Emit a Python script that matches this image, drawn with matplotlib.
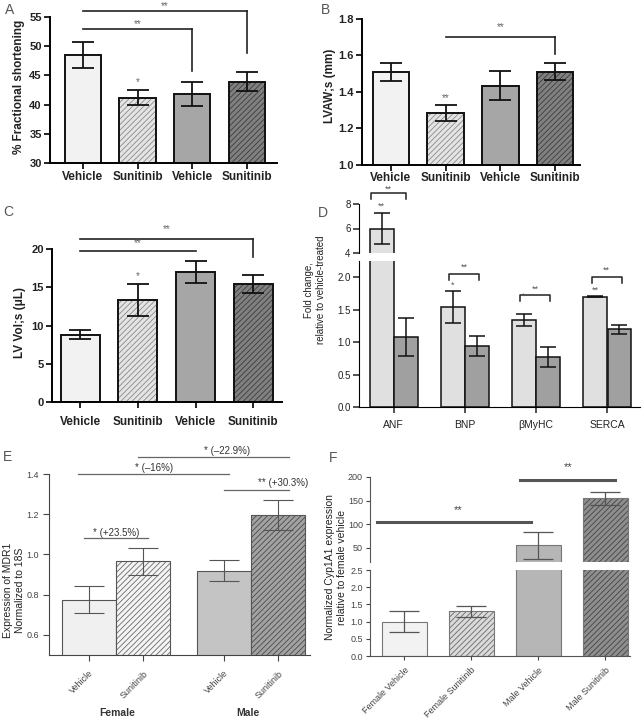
import numpy as np
import matplotlib
matplotlib.use('Agg')
import matplotlib.pyplot as plt

plt.rcParams['font.family'] = ['Liberation Sans', 'DejaVu Sans']
plt.rcParams['hatch.linewidth'] = 0.6

W, H = 644, 720
fig = plt.figure(figsize=(W/100, H/100), dpi=100)

def ax_px(x0, y0, x1, y1):
    return fig.add_axes([x0/W, 1-y1/H, (x1-x0)/W, (y1-y0)/H])

# ---- data ----
groups4 = ['Vehicle', 'Sunitinib', 'Vehicle', 'Sunitinib']
a_val = [48.5, 41.2, 41.8, 43.9]
a_err = [2.3, 1.25, 2.1, 1.6]
b_val = [1.51, 1.285, 1.435, 1.512]
b_err = [0.05, 0.045, 0.08, 0.048]
c_val = [8.8, 13.3, 17.0, 15.4]
c_err = [0.55, 2.1, 1.4, 1.2]
d_genes = ['ANF', 'BNP', 'βMyHC', 'SERCA']
d_light = [6.0, 1.54, 1.34, 1.70]
d_light_err = [1.25, 0.24, 0.09, 0.01]
d_dark = [1.08, 0.94, 0.77, 1.20]
d_dark_err = [0.29, 0.16, 0.15, 0.07]
e_val = [0.775, 0.965, 0.918, 1.195]
e_err = [0.067, 0.068, 0.052, 0.075]
f_labels = ['Female Vehicle', 'Female Sunitinib', 'Male Vehicle', 'Male Sunitinib']
f_val = [1.0, 1.3, 55, 155]
f_err = [0.31, 0.16, 28, 14]

# bar styles: (face, hatch colour or None)
sty_top = [('#f2f2f2', None), ('#e4e4e4', '#8a8a8a'), ('#a6a6a6', None), ('#808080', '#3c3c3c')]
sty_e = [('#f0f0f0', None), ('#f4f4f4', '#6a6a6a'), ('#c4c4c4', None), ('#a2a2a2', '#4a4a4a')]
sty_f = [('#f2f2f2', None), ('#dadada', '#6a6a6a'), ('#b6b6b6', None), ('#8e8e8e', '#444444')]

def draw_bar(ax, x, h, w, face, hcol, edge, lw, bottom=0):
    if hcol:
        ax.bar(x, h, w, bottom=bottom, color=face, edgecolor=hcol, hatch='//////', lw=0)
    else:
        ax.bar(x, h, w, bottom=bottom, color=face, lw=0)
    ax.bar(x, h, w, bottom=bottom, fill=False, edgecolor=edge, lw=lw)

def style_top(ax, lw=1.4):
    for s in ['top', 'right']:
        ax.spines[s].set_visible(False)
    for s in ['left', 'bottom']:
        ax.spines[s].set_linewidth(lw)
    ax.tick_params(width=lw, length=4, labelsize=8, colors='#222222', pad=2)
    for t in ax.get_xticklabels():
        t.set_fontweight('bold')
        t.set_fontsize(8.5)
    for t in ax.get_yticklabels():
        t.set_fontweight('bold')

def bracket(ax, x0, x1, y, ydrop=None, txt='**', ty=None, lw=1.2, color='#222222', tcol='#666666', fs=7):
    ax.plot([x0, x1], [y, y], color=color, lw=lw, clip_on=False)
    if ydrop is not None:
        ax.plot([x1, x1], [y, ydrop], color=color, lw=lw, clip_on=False)
    if txt:
        ax.text((x0 + x1)/2, ty, txt, ha='center', va='center', fontsize=fs, color=tcol, clip_on=False)

def ylab(px, py, txt, fs=8.5, weight='bold', color='#222222'):
    fig.text(px/W, 1-py/H, txt, rotation=90, ha='center', va='center', fontsize=fs,
             color=color, weight=weight, linespacing=1.2)

x4 = np.arange(4)

# ---- Panel A ----
ax = ax_px(50, 17, 277, 163)
for i in range(4):
    draw_bar(ax, x4[i], a_val[i], 0.66, sty_top[i][0], sty_top[i][1], '#111111', 1.4)
ax.errorbar(x4, a_val, yerr=a_err, fmt='none', ecolor='#111111', elinewidth=1.3, capsize=8, capthick=1.3)
ax.set_ylim(30, 55)
ax.set_xlim(-0.6, 3.55)
ax.set_yticks(range(30, 56, 5))
ax.set_xticks(x4)
ax.set_xticklabels(groups4)
style_top(ax)
ax.text(1, 43.9, '*', ha='center', va='center', fontsize=7, color='#666666')
bracket(ax, 0, 2, 52.9, 45.8, '**', 53.8)
bracket(ax, 0, 3, 56.0, 48.8, '**', 56.9)
ylab(19, 87, '% Fractional shortening')

# ---- Panel B ----
ax = ax_px(362, 19, 580, 165)
for i in range(4):
    draw_bar(ax, x4[i], b_val[i], 0.67, sty_top[i][0], sty_top[i][1], '#111111', 1.4)
ax.errorbar(x4, b_val, yerr=b_err, fmt='none', ecolor='#111111', elinewidth=1.3, capsize=8, capthick=1.3)
ax.set_ylim(1.0, 1.8)
ax.set_xlim(-0.53, 3.46)
ax.set_yticks(np.arange(1.0, 1.81, 0.2))
ax.set_yticklabels(['1.0', '1.2', '1.4', '1.6', '1.8'])
ax.set_xticks(x4)
ax.set_xticklabels(groups4)
style_top(ax)
ax.tick_params(axis='x', pad=1)
ax.text(1, 1.367, '**', ha='center', va='center', fontsize=7, color='#666666')
bracket(ax, 1, 3, 1.70, 1.61, '**', 1.755)
ylab(330, 86, 'LVAW;s (mm)')

# ---- Panel C ----
ax = ax_px(52, 249, 282, 402)
for i in range(4):
    draw_bar(ax, x4[i], c_val[i], 0.68, sty_top[i][0], sty_top[i][1], '#111111', 1.4)
ax.errorbar(x4, c_val, yerr=c_err, fmt='none', ecolor='#111111', elinewidth=1.3, capsize=8, capthick=1.3)
ax.set_ylim(0, 20)
ax.set_xlim(-0.49, 3.5)
ax.set_yticks(range(0, 21, 5))
ax.set_xticks(x4)
ax.set_xticklabels(groups4)
style_top(ax)
ax.tick_params(axis='x', pad=6)
ax.text(1, 16.5, '*', ha='center', va='center', fontsize=7, color='#666666')
bracket(ax, 0, 2, 19.7, None, '**', 20.8)
bracket(ax, 0, 3, 21.3, 19.0, '**', 22.6)
ylab(20, 323, 'LV Vol;s (μL)')

# ---- Panel D (broken axis) ----
dx = np.arange(4)
off = 0.17
dw = 0.33
axt = ax_px(359, 204, 640, 253)
axb = ax_px(359, 261, 640, 407)
for a in (axt, axb):
    for i in range(4):
        draw_bar(a, dx[i]-off, d_light[i], dw, '#e0e0e0', None, '#111111', 1.1)
        draw_bar(a, dx[i]+off, d_dark[i], dw, '#a0a0a0', None, '#111111', 1.1)
    a.errorbar(dx-off, d_light, yerr=d_light_err, fmt='none', ecolor='#111111', elinewidth=1.1, capsize=6, capthick=1.1)
    a.errorbar(dx+off, d_dark, yerr=d_dark_err, fmt='none', ecolor='#111111', elinewidth=1.1, capsize=6, capthick=1.1)
    a.set_xlim(-0.49, 3.46)
    for s in ['top', 'right']:
        a.spines[s].set_visible(False)
    a.tick_params(width=1.1, length=4, labelsize=7, colors='#222222', pad=2)
axt.set_ylim(4, 8)
axt.set_yticks([4, 6, 8])
axt.spines['bottom'].set_visible(False)
axt.set_xticks([])
axb.set_ylim(0, 2.25)
axb.set_yticks(np.arange(0, 2.01, 0.5))
axb.set_yticklabels(['0.0', '0.5', '1.0', '1.5', '2.0'])
axb.set_xticks(dx)
axb.set_xticklabels(d_genes, fontsize=7.5)
axb.tick_params(axis='x', pad=5)
axt.text(-off, 7.85, '**', ha='center', va='center', fontsize=6.5, color='#555555')
x0, x1 = -off-0.15, off
axt.plot([x0, x0, x1, x1], [8.4, 8.9, 8.9, 8.4], color='#222222', lw=1.1, clip_on=False)
axt.text((x0+x1)/2, 9.0, '**', ha='center', va='baseline', fontsize=6.5, color='#555555', clip_on=False)
star_d = ['*', '*', '**']
star_y = [1.88, 1.7, 1.8]
brk_y = [2.05, 1.72, 2.0]
for k, i in enumerate([1, 2, 3]):
    axb.text(i-off, star_y[k], star_d[k], ha='center', va='center', fontsize=6.5, color='#555555')
    x0, x1 = i-off-0.05, i+off+0.03
    axb.plot([x0, x0, x1, x1], [brk_y[k]-0.09, brk_y[k], brk_y[k], brk_y[k]-0.09], color='#222222', lw=1.1, clip_on=False)
    axb.text((x0+x1)/2, brk_y[k]+0.1, '**', ha='center', va='center', fontsize=6.5, color='#555555', clip_on=False)
ylab(315, 290, 'Fold change,\nrelative to vehicle-treated', fs=7, weight='normal')

# ---- Panel E ----
ex = np.array([0, 1, 2.5, 3.5])
ax = ax_px(49, 474, 310, 655)
for i in range(4):
    draw_bar(ax, ex[i], e_val[i], 1.0, sty_e[i][0], sty_e[i][1], '#555555', 0.8)
ax.errorbar(ex, e_val, yerr=e_err, fmt='none', ecolor='#555555', elinewidth=0.8, capsize=11, capthick=0.8)
ax.set_ylim(0.5, 1.4)
ax.set_xlim(-0.74, 4.09)
ax.set_yticks(np.arange(0.6, 1.41, 0.2))
ax.set_yticklabels(['0.6', '0.8', '1.0', '1.2', '1.4'])
ax.set_xticks(ex)
ax.set_xticklabels(['Vehicle', 'Sunitinib', 'Vehicle', 'Sunitinib'], rotation=45, ha='right',
                   rotation_mode='anchor', fontsize=6.5)
for s in ['top', 'right']:
    ax.spines[s].set_visible(False)
for s in ['left', 'bottom']:
    ax.spines[s].set_linewidth(0.8)
    ax.spines[s].set_color('#444444')
ax.tick_params(width=0.8, length=4, labelsize=6.5, colors='#444444', pad=3)
ax.tick_params(axis='x', pad=6)
lc = '#666666'
bracket(ax, -0.1, 1.1, 1.08, None, '* (+23.5%)', 1.105, lw=0.9, color=lc, tcol='#333333', fs=7)
bracket(ax, -0.2, 2.6, 1.40, None, '* (\u201316%)', 1.43, lw=0.9, color=lc, tcol='#333333', fs=7)
bracket(ax, 0.9, 3.7, 1.485, None, '', lw=0.9, color=lc)
ax.text(2.55, 1.515, '* (\u201322.9%)', ha='center', va='center', fontsize=7, color='#333333', clip_on=False)
bracket(ax, 2.5, 3.7, 1.32, None, '', lw=0.9, color=lc)
ax.text(3.6, 1.355, '** (+30.3%)', ha='center', va='center', fontsize=7, color='#333333', clip_on=False)
fig.text(117/W, 1-713/H, 'Female', ha='center', va='center', fontsize=7.5, color='#333333', weight='bold')
fig.text(248/W, 1-713/H, 'Male', ha='center', va='center', fontsize=7.5, color='#333333', weight='bold')
ylab(14, 590, 'Expression of MDR1\nNormalized to 18S', fs=7.5, weight='normal')

# ---- Panel F (broken axis) ----
fx = np.arange(4)
fw = 0.67
axt = ax_px(370, 477, 630, 562)
axb = ax_px(370, 570, 630, 656)
for a in (axt, axb):
    for i in range(4):
        draw_bar(a, fx[i], f_val[i], fw, sty_f[i][0], sty_f[i][1], '#777777', 0.8)
    a.errorbar(fx, f_val, yerr=f_err, fmt='none', ecolor='#555555', elinewidth=0.9, capsize=11, capthick=0.9)
    a.set_xlim(-0.51, 3.37)
    for s in ['top', 'right']:
        a.spines[s].set_visible(False)
    for s in ['left', 'bottom']:
        a.spines[s].set_linewidth(0.8)
        a.spines[s].set_color('#555555')
    a.tick_params(width=0.8, length=3, labelsize=6.5, colors='#444444', pad=2)
axt.set_ylim(20, 200)
axt.set_yticks([50, 100, 150, 200])
axt.spines['bottom'].set_visible(False)
axt.set_xticks([])
axb.set_ylim(0, 2.5)
axb.set_yticks(np.arange(0, 2.51, 0.5))
axb.set_yticklabels(['0.0', '0.5', '1.0', '1.5', '2.0', '2.5'])
axb.set_xticks(fx)
axb.set_xticklabels(f_labels, rotation=45, ha='right', rotation_mode='anchor', fontsize=6.5)
axb.tick_params(axis='x', pad=4)
axt.plot([-0.4, 1.9], [105, 105], color='#555555', lw=2.2)
axt.text(0.8, 130, '**', ha='center', va='center', fontsize=8, color='#444444')
axt.plot([1.73, 3.15], [193, 193], color='#555555', lw=2.2, clip_on=False)
axt.text(2.44, 220, '**', ha='center', va='center', fontsize=8, color='#444444', clip_on=False)
ylab(336, 567, 'Normalized Cyp1A1 expression\nrelative to female vehicle', fs=7.5, weight='normal')

# ---- panel letters ----
for lab, (px, py) in zip('ABCDEF', [(10, 10), (325, 10), (8, 212), (323, 213), (8, 457), (333, 458)]):
    fig.text(px/W, 1-py/H, lab, ha='center', va='center', fontsize=10, color='#555555')

fig.savefig('out.png', dpi=100)
